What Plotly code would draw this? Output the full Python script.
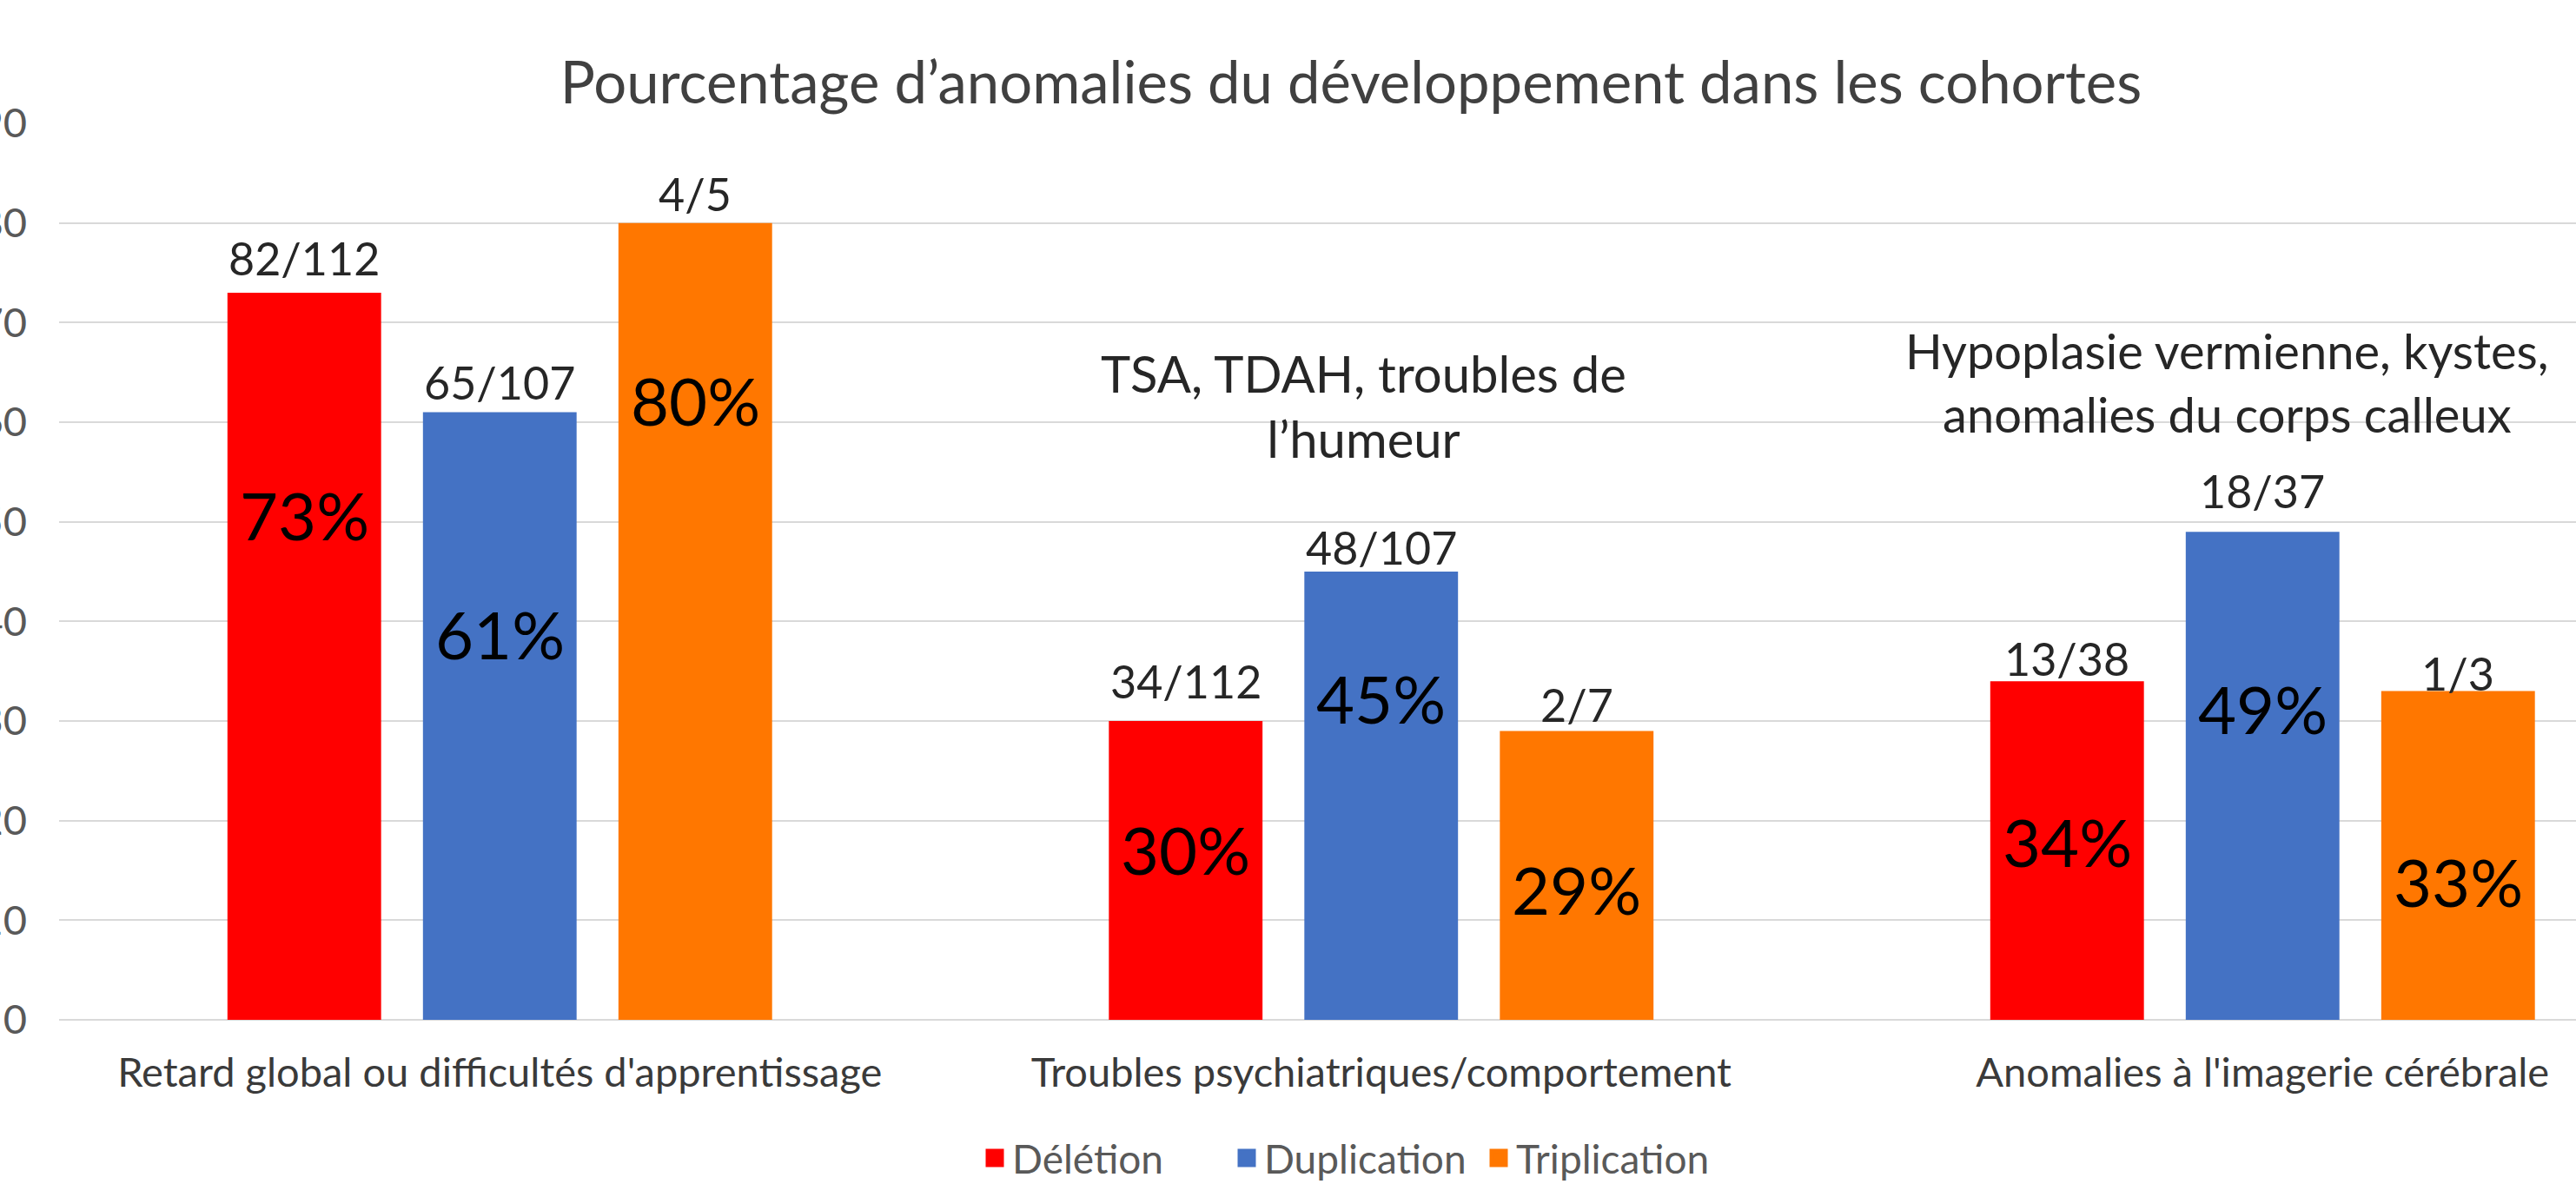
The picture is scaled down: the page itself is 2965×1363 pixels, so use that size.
import plotly.graph_objects as go

# ---- data ----
categories = [
    "Retard global ou difficultés d'apprentissage",
    "Troubles psychiatriques/comportement",
    "Anomalies à l'imagerie cérébrale",
]
series_names = ["Délétion", "Duplication", "Triplication"]
deletion = [73, 30, 34]
duplication = [61, 45, 49]
triplication = [80, 29, 33]
deletion_counts = ["82/112", "34/112", "13/38"]
duplication_counts = ["65/107", "48/107", "18/37"]
triplication_counts = ["4/5", "2/7", "1/3"]
y_ticks = [0, 10, 20, 30, 40, 50, 60, 70, 80, 90]
notes = ["TSA, TDAH, troubles de<br>l’humeur",
         "Hypoplasie vermienne, kystes,<br>anomalies du corps calleux"]

# ---- style / layout constants ----
colors = ["#FF0000", "#4472C4", "#FF7700"]
W, H = 2965, 1363
ML, MR, MT, MB = 68, 0, 141.5, 189
cat_px = 1014.5
bargap = 0.3346
bargroupgap = 0.214
slot = (1 - bargap) / 3
# manual label placements (value-axis units), per series then per category
inner_label_y = [[50.7, 17.1, 17.9], [38.8, 32.3, 31.3], [62.2, 13.1, 13.9]]
count_label_y = [[76.5, 34.0, 36.3], [64.0, 47.4, 53.1], [82.9, 31.7, 34.8]]

FONT = "Lato"
values = [deletion, duplication, triplication]
counts = [deletion_counts, duplication_counts, triplication_counts]
xs = list(range(len(categories)))

fig = go.Figure()
for name, vals, col in zip(series_names, values, colors):
    fig.add_trace(go.Bar(x=xs, y=vals, name=name, marker=dict(color=col, line=dict(width=0)),
                         showlegend=False, hoverinfo="skip"))
# legend entries (square swatches)
for name, col in zip(series_names, colors):
    fig.add_trace(go.Scatter(x=[None], y=[None], mode="markers", name=name,
                             marker=dict(symbol="square", size=16, color=col,
                                         line=dict(color=col, width=5))))

ann = []
for j in range(3):
    for i in xs:
        xx = i + (j - 1) * slot
        ann.append(dict(x=xx, y=inner_label_y[j][i], xref="x", yref="y",
                        text=f"{values[j][i]}%", showarrow=False,
                        font=dict(family=FONT, size=76, color="#000000")))
        ann.append(dict(x=xx, y=count_label_y[j][i], xref="x", yref="y",
                        text=counts[j][i], showarrow=False,
                        font=dict(family=FONT, size=52, color="#262626")))
# side notes
ann.append(dict(x=0.98, y=61.7, xref="x", yref="y", text=notes[0], showarrow=False,
                font=dict(family=FONT, size=58, color="#262626")))
ann.append(dict(x=1.96, y=64.0, xref="x", yref="y", text=notes[1], showarrow=False,
                font=dict(family=FONT, size=56, color="#262626")))

x_range = [-0.5, -0.5 + (W - ML - MR) / cat_px]

fig.update_layout(
    width=W, height=H,
    margin=dict(l=ML, r=MR, t=MT, b=MB, autoexpand=False),
    paper_bgcolor="white", plot_bgcolor="white",
    barmode="group", bargap=bargap, bargroupgap=bargroupgap,
    title=dict(text="Pourcentage d’anomalies du développement dans les cohortes",
               x=1555 / W, xref="container", xanchor="center",
               y=1 - 96 / H, yref="container", yanchor="middle",
               font=dict(family=FONT, size=67, color="#404040")),
    xaxis=dict(range=x_range, tickmode="array", tickvals=xs, ticktext=categories,
               showgrid=False, zeroline=False, showline=False, ticks="",
               ticklabelstandoff=29,
               tickfont=dict(family=FONT, size=47, color="#3a3a3a")),
    yaxis=dict(range=[0, 90], tickmode="array", tickvals=y_ticks,
               ticktext=[str(t) for t in y_ticks],
               showgrid=True, gridcolor="#d9d9d9", gridwidth=2,
               zeroline=True, zerolinecolor="#d9d9d9", zerolinewidth=2,
               showline=False, ticks="", ticklabelstandoff=36,
               tickfont=dict(family=FONT, size=47, color="#595959")),
    legend=dict(orientation="h", x=1125 / W, xref="container", xanchor="left",
                y=1 - 1333 / H, yref="container", yanchor="middle",
                entrywidth=245, entrywidthmode="pixels",
                font=dict(family=FONT, size=46, color="#595959"),
                itemclick=False),
    annotations=ann,
    showlegend=True,
)

fig.write_html("out.html", config={"displayModeBar": False},
               post_script="document.body.style.margin='0';")
